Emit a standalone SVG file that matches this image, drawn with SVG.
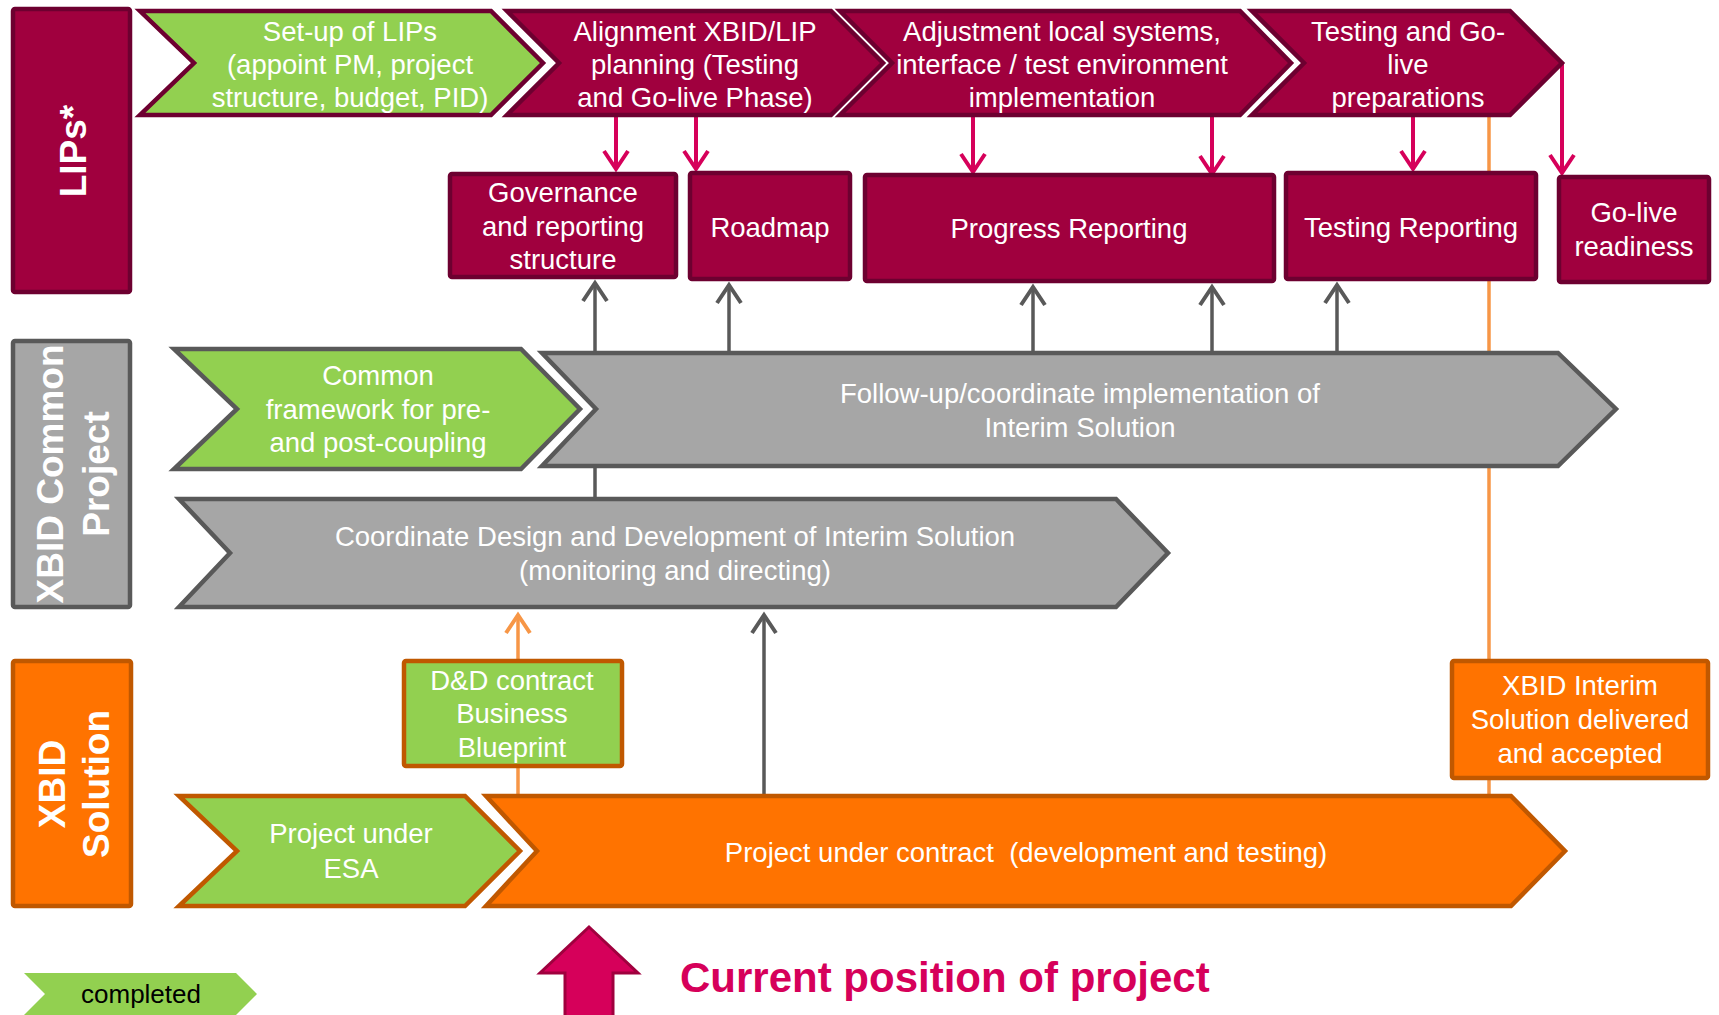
<svg xmlns="http://www.w3.org/2000/svg" width="1719" height="1015" viewBox="0 0 1719 1015">
<defs>
<style>
text{font-family:"Liberation Sans",Arial,sans-serif;}
.t{fill:#fff;font-size:27.5px;text-anchor:middle;}
.side{fill:#fff;font-size:37px;font-weight:bold;text-anchor:middle;}
.mar{fill:#a0003e;stroke:#6d0030;stroke-width:4.5;}
.grn{fill:#92d050;}
.gry{fill:#a6a6a6;stroke:#595959;stroke-width:4.5;}
.org{fill:#ff7300;stroke:#c05800;stroke-width:4.5;}
.redl{stroke:#d6005a;stroke-width:4;fill:none;marker-end:url(#redArr);}
.gryl{stroke:#595959;stroke-width:3.5;fill:none;}
.grya{marker-end:url(#grayArr);}
.orl{stroke:#f79646;stroke-width:3.5;fill:none;}
</style>
<marker id="redArr" markerUnits="userSpaceOnUse" viewBox="-4 -4 30 34" markerWidth="30" markerHeight="34" refX="20" refY="13" orient="auto" overflow="visible">
<path d="M2,1 L20,13 L2,25" fill="none" stroke="#d6005a" stroke-width="4"/>
</marker>
<marker id="grayArr" markerUnits="userSpaceOnUse" viewBox="-4 -4 30 34" markerWidth="30" markerHeight="34" refX="20" refY="13" orient="auto" overflow="visible">
<path d="M2,1 L20,13 L2,25" fill="none" stroke="#595959" stroke-width="4"/>
</marker>
<marker id="orArr" markerUnits="userSpaceOnUse" viewBox="-4 -4 30 34" markerWidth="30" markerHeight="34" refX="20" refY="13" orient="auto" overflow="visible">
<path d="M2,1 L20,13 L2,25" fill="none" stroke="#f79646" stroke-width="4"/>
</marker>
</defs>
<rect width="1719" height="1015" fill="#fff"/>

<g id="connectors">
<line class="orl" x1="1489" y1="115" x2="1489" y2="796"/>
<line class="orl" x1="518" y1="796" x2="518" y2="615" marker-end="url(#orArr)"/>
<line class="gryl grya" x1="595" y1="499" x2="595" y2="283"/>
<line class="gryl grya" x1="729" y1="353" x2="729" y2="285"/>
<line class="gryl grya" x1="1033" y1="353" x2="1033" y2="287"/>
<line class="gryl grya" x1="1212" y1="355" x2="1212" y2="287"/>
<line class="gryl grya" x1="1337" y1="353" x2="1337" y2="285"/>
<line class="gryl grya" x1="764" y1="796" x2="764" y2="615"/>
<line class="redl" x1="616" y1="115" x2="616" y2="169"/>
<line class="redl" x1="696" y1="115" x2="696" y2="169"/>
<line class="redl" x1="973" y1="115" x2="973" y2="172"/>
<line class="redl" x1="1212" y1="115" x2="1212" y2="174"/>
<line class="redl" x1="1413" y1="115" x2="1413" y2="169"/>
<line class="redl" x1="1562" y1="63" x2="1562" y2="173"/>
</g>

<g id="lane-lips">
<rect class="mar" x="13" y="9" width="117" height="283" rx="2"/>
<text class="side" transform="translate(86,151) rotate(-90)">LIPs*</text>
</g>
<g id="lane-common">
<rect class="gry" x="13" y="341" width="117" height="266" rx="2"/>
<text class="side" transform="translate(63,474) rotate(-90)">XBID Common</text>
<text class="side" transform="translate(109,474) rotate(-90)">Project</text>
</g>
<g id="lane-solution">
<rect class="org" x="13" y="661" width="118" height="245" rx="2"/>
<text class="side" transform="translate(65,784) rotate(-90)">XBID</text>
<text class="side" transform="translate(109,784) rotate(-90)">Solution</text>
</g>

<g id="setup-lips">
<polygon class="grn" stroke="#6d0030" stroke-width="4.5" points="140,11 491,11 543,63 491,115 140,115 194,63"/>
<text class="t" x="350" y="40.5">Set-up of LIPs</text>
<text class="t" x="350" y="74">(appoint PM, project</text>
<text class="t" x="350" y="107">structure, budget, PID)</text>
</g>
<g id="alignment">
<polygon class="mar" points="507,11 831,11 883,63 831,115 507,115 559,63"/>
<text class="t" x="695" y="40.5">Alignment XBID/LIP</text>
<text class="t" x="695" y="74">planning (Testing</text>
<text class="t" x="695" y="107">and Go-live Phase)</text>
</g>
<g id="adjustment">
<polygon class="mar" points="840,11 1240,11 1291,63 1240,115 840,115 892,63"/>
<text class="t" x="1062" y="40.5">Adjustment local systems,</text>
<text class="t" x="1062" y="74">interface / test environment</text>
<text class="t" x="1062" y="107">implementation</text>
</g>
<g id="testing-golive">
<polygon class="mar" points="1252,11 1510,11 1562,63 1510,115 1252,115 1304,63"/>
<text class="t" x="1408" y="40.5">Testing and Go-</text>
<text class="t" x="1408" y="74">live</text>
<text class="t" x="1408" y="107">preparations</text>
</g>

<g id="governance">
<rect class="mar" x="450" y="174" width="226" height="103" rx="2"/>
<text class="t" x="563" y="202">Governance</text>
<text class="t" x="563" y="236">and reporting</text>
<text class="t" x="563" y="269">structure</text>
</g>
<g id="roadmap">
<rect class="mar" x="690" y="173" width="160" height="106" rx="2"/>
<text class="t" x="770" y="237">Roadmap</text>
</g>
<g id="progress-reporting">
<rect class="mar" x="865" y="175" width="409" height="106" rx="2"/>
<text class="t" x="1069" y="238">Progress Reporting</text>
</g>
<g id="testing-reporting">
<rect class="mar" x="1286" y="173" width="250" height="106" rx="2"/>
<text class="t" x="1411" y="237">Testing Reporting</text>
</g>
<g id="golive-readiness">
<rect class="mar" x="1559" y="177" width="150" height="105" rx="2"/>
<text class="t" x="1634" y="222">Go-live</text>
<text class="t" x="1634" y="256">readiness</text>
</g>

<g id="common-framework">
<polygon class="grn" stroke="#595959" stroke-width="4.5" points="174,349 521,349 580,409 521,469 174,469 237,409"/>
<text class="t" x="378" y="385">Common</text>
<text class="t" x="378" y="419">framework for pre-</text>
<text class="t" x="378" y="452">and post-coupling</text>
</g>
<g id="follow-up">
<polygon class="gry" points="542,353 1558,353 1616,409 1558,466 542,466 596,409"/>
<text class="t" x="1080" y="403">Follow-up/coordinate implementation of</text>
<text class="t" x="1080" y="437">Interim Solution</text>
</g>
<g id="coordinate-design">
<polygon class="gry" points="179,499 1116,499 1168,553 1116,607 179,607 230,553"/>
<text class="t" x="675" y="546">Coordinate Design and Development of Interim Solution</text>
<text class="t" x="675" y="580">(monitoring and directing)</text>
</g>

<g id="dd-contract">
<rect class="grn" stroke="#c05800" stroke-width="4.5" x="404" y="661" width="218" height="105" rx="2"/>
<text class="t" x="512" y="690">D&amp;D contract</text>
<text class="t" x="512" y="723">Business</text>
<text class="t" x="512" y="757">Blueprint</text>
</g>
<g id="interim-delivered">
<rect class="org" x="1452" y="661" width="256" height="117" rx="2"/>
<text class="t" x="1580" y="695">XBID Interim</text>
<text class="t" x="1580" y="729">Solution delivered</text>
<text class="t" x="1580" y="763">and accepted</text>
</g>

<g id="project-esa">
<polygon class="grn" stroke="#c05800" stroke-width="4.5" points="179,796 465,796 520,851 465,906 179,906 237,851"/>
<text class="t" x="351" y="843">Project under</text>
<text class="t" x="351" y="878">ESA</text>
</g>
<g id="project-contract">
<polygon class="org" points="486,796 1511,796 1565,851 1511,906 486,906 537,851"/>
<text class="t" x="1026" y="862" xml:space="preserve">Project under contract  (development and testing)</text>
</g>

<g id="legend">
<polygon class="grn" points="24,973 236,973 257,994 236,1015 24,1015 45,994"/>
<text x="141" y="1003" font-size="26" fill="#000" text-anchor="middle">completed</text>
</g>
<g id="current-position">
<polygon points="589,927 638,973 613,973 613,1018 565,1018 565,973 540,973" fill="#d6005a" stroke="#a0003e" stroke-width="3"/>
<text x="680" y="992" font-size="42" font-weight="bold" fill="#d6005a">Current position of project</text>
</g>
</svg>
